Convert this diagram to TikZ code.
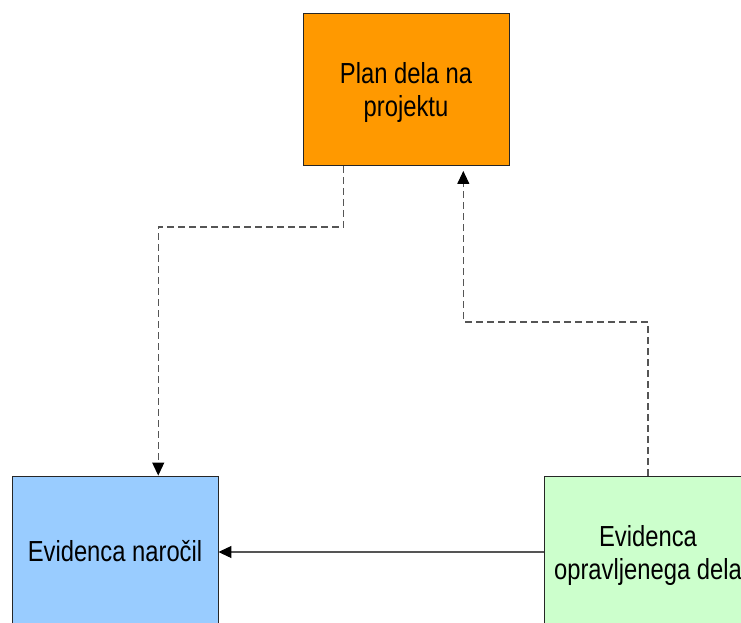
\documentclass[tikz,border=0pt]{standalone}
\usepackage{fontspec}
\setmainfont{Liberation Sans}
\usetikzlibrary{arrows.meta,calc}
\definecolor{planfill}{HTML}{FF9900}
\definecolor{ordfill}{HTML}{99CCFF}
\definecolor{workfill}{HTML}{CCFFCC}
\definecolor{linkgray}{HTML}{555555}
% narrow Arial-like lettering
\newcommand{\boxtext}[1]{\scalebox{0.82}[1]{\begin{tabular}{@{}c@{}}#1\end{tabular}}}
\tikzset{
  block/.style={draw=black!85, line width=0.9pt, minimum width=206pt, minimum height=152pt,
    inner sep=0pt},
  caption/.style={inner sep=0pt, font=\fontsize{29}{33}\selectfont, text=black},
  link/.style={draw=linkgray, line width=1.1pt,
    -{Triangle[length=13pt,width=12pt,color=black]}},
  dashedlink/.style={link, dash pattern=on 7pt off 4pt}
}
\begin{document}
\begin{tikzpicture}[x=1pt,y=-1pt]
  \useasboundingbox (0,0) rectangle (741,623);
  \clip (0,0) rectangle (741,623);
  \fill[white] (0,0) rectangle (741,623);

  % boxes
  \node[block, fill=planfill] (plan) at (406,89.5) {};
  \node[block, fill=ordfill] (orders) at (115,552) {};
  \node[block, fill=workfill, minimum width=208pt] (work) at (648,552) {};

  % box captions
  \node[caption] (plantext) at ($(plan.center)+(0,4)$) {\boxtext{Plan dela na\\projektu}};
  \node[caption] (orderstext) at ($(orders.center)+(0,3)$) {\boxtext{Evidenca naročil}};
  \node[caption] (worktext) at ($(work.center)+(0,4)$) {\boxtext{Evidenca\\opravljenega dela}};

  \coordinate (planout) at ($(plan.south west)!0.2!(plan.south east)$);
  \coordinate (planin) at ($(plan.south west)!0.777!(plan.south east)$);
  \coordinate (ordin) at ($(orders.north west)!0.709!(orders.north east)$);

  % connectors
  \draw[dashedlink] (planout) -- (planout |- 0,227) -| (ordin);
  \draw[dashedlink, shorten >=5pt] (work.north) -- (work.north |- 0,322) -| (planin);
  \draw[link] (work.west) -- (orders.east);
\end{tikzpicture}
\end{document}
